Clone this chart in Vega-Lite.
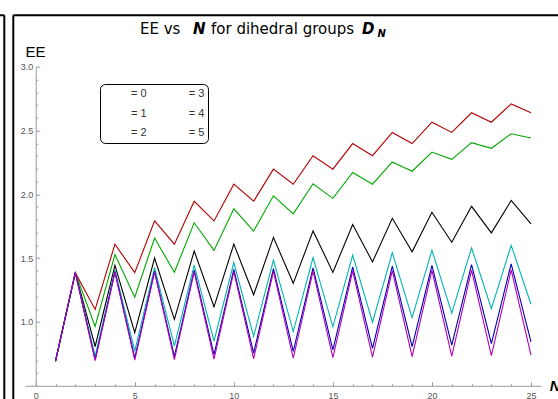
{
  "$schema": "https://vega.github.io/schema/vega-lite/v6.json",
  "width": 515.9,
  "height": 319.1,
  "autosize": {"type": "none"},
  "padding": {"left": 25, "top": 66.7, "right": 17.1, "bottom": 13.2},
  "background": "white",
  "config": {"view": {"stroke": null}, "font": "Liberation Sans"},
  "resolve": {"axis": {"x": "independent", "y": "independent"}},
  "layer": [
    {
      "data": {"values": [
        {"N":1,"k":"0","EE":0.6931},{"N":2,"k":"0","EE":1.3863},{"N":3,"k":"0","EE":1.0986},{"N":4,"k":"0","EE":1.6094},{"N":5,"k":"0","EE":1.3863},{"N":6,"k":"0","EE":1.7918},{"N":7,"k":"0","EE":1.6094},{"N":8,"k":"0","EE":1.9459},{"N":9,"k":"0","EE":1.7918},{"N":10,"k":"0","EE":2.0794},{"N":11,"k":"0","EE":1.9459},{"N":12,"k":"0","EE":2.1972},{"N":13,"k":"0","EE":2.0794},{"N":14,"k":"0","EE":2.3026},{"N":15,"k":"0","EE":2.1972},{"N":16,"k":"0","EE":2.3979},{"N":17,"k":"0","EE":2.3026},{"N":18,"k":"0","EE":2.4849},{"N":19,"k":"0","EE":2.3979},{"N":20,"k":"0","EE":2.5649},{"N":21,"k":"0","EE":2.4849},{"N":22,"k":"0","EE":2.6391},{"N":23,"k":"0","EE":2.5649},{"N":24,"k":"0","EE":2.7081},{"N":25,"k":"0","EE":2.6391},
        {"N":1,"k":"1","EE":0.6931},{"N":2,"k":"1","EE":1.3863},{"N":3,"k":"1","EE":0.9650},{"N":4,"k":"1","EE":1.5285},{"N":5,"k":"1","EE":1.1936},{"N":6,"k":"1","EE":1.6581},{"N":7,"k":"1","EE":1.3897},{"N":8,"k":"1","EE":1.7770},{"N":9,"k":"1","EE":1.5607},{"N":10,"k":"1","EE":1.8867},{"N":11,"k":"1","EE":1.7118},{"N":12,"k":"1","EE":1.9883},{"N":13,"k":"1","EE":1.8469},{"N":14,"k":"1","EE":2.0828},{"N":15,"k":"1","EE":1.9687},{"N":16,"k":"1","EE":2.1711},{"N":17,"k":"1","EE":2.0794},{"N":18,"k":"1","EE":2.2539},{"N":19,"k":"1","EE":2.1808},{"N":20,"k":"1","EE":2.3316},{"N":21,"k":"1","EE":2.2742},{"N":22,"k":"1","EE":2.4050},{"N":23,"k":"1","EE":2.3607},{"N":24,"k":"1","EE":2.4743},{"N":25,"k":"1","EE":2.4412},
        {"N":1,"k":"2","EE":0.6931},{"N":2,"k":"2","EE":1.3863},{"N":3,"k":"2","EE":0.8079},{"N":4,"k":"2","EE":1.4444},{"N":5,"k":"2","EE":0.9169},{"N":6,"k":"2","EE":1.5011},{"N":7,"k":"2","EE":1.0204},{"N":8,"k":"2","EE":1.5563},{"N":9,"k":"2","EE":1.1190},{"N":10,"k":"2","EE":1.6100},{"N":11,"k":"2","EE":1.2130},{"N":12,"k":"2","EE":1.6624},{"N":13,"k":"2","EE":1.3028},{"N":14,"k":"2","EE":1.7136},{"N":15,"k":"2","EE":1.3886},{"N":16,"k":"2","EE":1.7634},{"N":17,"k":"2","EE":1.4708},{"N":18,"k":"2","EE":1.8121},{"N":19,"k":"2","EE":1.5496},{"N":20,"k":"2","EE":1.8597},{"N":21,"k":"2","EE":1.6252},{"N":22,"k":"2","EE":1.9062},{"N":23,"k":"2","EE":1.6979},{"N":24,"k":"2","EE":1.9516},{"N":25,"k":"2","EE":1.7678},
        {"N":1,"k":"3","EE":0.6931},{"N":2,"k":"3","EE":1.3863},{"N":3,"k":"3","EE":0.7332},{"N":4,"k":"3","EE":1.4064},{"N":5,"k":"3","EE":0.7726},{"N":6,"k":"3","EE":1.4263},{"N":7,"k":"3","EE":0.8116},{"N":8,"k":"3","EE":1.4461},{"N":9,"k":"3","EE":0.8499},{"N":10,"k":"3","EE":1.4658},{"N":11,"k":"3","EE":0.8878},{"N":12,"k":"3","EE":1.4853},{"N":13,"k":"3","EE":0.9252},{"N":14,"k":"3","EE":1.5047},{"N":15,"k":"3","EE":0.9620},{"N":16,"k":"3","EE":1.5240},{"N":17,"k":"3","EE":0.9984},{"N":18,"k":"3","EE":1.5431},{"N":19,"k":"3","EE":1.0343},{"N":20,"k":"3","EE":1.5621},{"N":21,"k":"3","EE":1.0697},{"N":22,"k":"3","EE":1.5810},{"N":23,"k":"3","EE":1.1047},{"N":24,"k":"3","EE":1.5997},{"N":25,"k":"3","EE":1.1392},
        {"N":1,"k":"4","EE":0.6931},{"N":2,"k":"4","EE":1.3863},{"N":3,"k":"4","EE":0.7059},{"N":4,"k":"4","EE":1.3927},{"N":5,"k":"4","EE":0.7186},{"N":6,"k":"4","EE":1.3991},{"N":7,"k":"4","EE":0.7313},{"N":8,"k":"4","EE":1.4054},{"N":9,"k":"4","EE":0.7439},{"N":10,"k":"4","EE":1.4118},{"N":11,"k":"4","EE":0.7565},{"N":12,"k":"4","EE":1.4181},{"N":13,"k":"4","EE":0.7690},{"N":14,"k":"4","EE":1.4244},{"N":15,"k":"4","EE":0.7815},{"N":16,"k":"4","EE":1.4308},{"N":17,"k":"4","EE":0.7940},{"N":18,"k":"4","EE":1.4371},{"N":19,"k":"4","EE":0.8064},{"N":20,"k":"4","EE":1.4434},{"N":21,"k":"4","EE":0.8187},{"N":22,"k":"4","EE":1.4496},{"N":23,"k":"4","EE":0.8310},{"N":24,"k":"4","EE":1.4559},{"N":25,"k":"4","EE":0.8433},
        {"N":1,"k":"5","EE":0.6931},{"N":2,"k":"5","EE":1.3863},{"N":3,"k":"5","EE":0.6970},{"N":4,"k":"5","EE":1.3882},{"N":5,"k":"5","EE":0.7009},{"N":6,"k":"5","EE":1.3902},{"N":7,"k":"5","EE":0.7047},{"N":8,"k":"5","EE":1.3921},{"N":9,"k":"5","EE":0.7086},{"N":10,"k":"5","EE":1.3940},{"N":11,"k":"5","EE":0.7125},{"N":12,"k":"5","EE":1.3960},{"N":13,"k":"5","EE":0.7163},{"N":14,"k":"5","EE":1.3979},{"N":15,"k":"5","EE":0.7202},{"N":16,"k":"5","EE":1.3998},{"N":17,"k":"5","EE":0.7240},{"N":18,"k":"5","EE":1.4018},{"N":19,"k":"5","EE":0.7279},{"N":20,"k":"5","EE":1.4037},{"N":21,"k":"5","EE":0.7317},{"N":22,"k":"5","EE":1.4056},{"N":23,"k":"5","EE":0.7355},{"N":24,"k":"5","EE":1.4075},{"N":25,"k":"5","EE":0.7394}
      ]},
      "mark": {"type": "line", "strokeWidth": 1.1},
      "encoding": {
        "x": {
          "field": "N", "type": "quantitative",
          "scale": {"domain": [-0.54, 25.5], "nice": false, "zero": false},
          "axis": {
            "orient": "bottom",
            "values": [0,5,10,15,20,25],
            "format": "d",
            "tickSize": -4,
            "labelPadding": 9.2,
            "labelOverlap": false,
            "labelFlush": false,
            "labelFontSize": 9,
            "labelColor": "#555555",
            "domainColor": "#999999",
            "tickColor": "#999999",
            "grid": false,
            "title": "N",
            "titleFontSize": 15,
            "titleFontWeight": "bold",
            "titleFontStyle": "italic",
            "titleColor": "black",
            "titleAlign": "left",
            "titleBaseline": "middle",
            "titleX": 524.3,
            "titleY": 0
          }
        },
        "y": {
          "field": "EE", "type": "quantitative",
          "scale": {"domain": [0.5, 3.0], "nice": false, "zero": false},
          "axis": {
            "orient": "left",
            "values": [1.0,1.5,2.0,2.5,3.0],
            "format": ".1f",
            "tickSize": -4,
            "labelPadding": 7,
            "labelOverlap": false,
            "labelFlush": false,
            "offset": -10.7,
            "labelFontSize": 9,
            "labelColor": "#555555",
            "domainColor": "#999999",
            "tickColor": "#999999",
            "grid": false,
            "title": "EE",
            "titleAngle": 0,
            "titleFontSize": 15,
            "titleFontWeight": "normal",
            "titleColor": "black",
            "titleAlign": "left",
            "titleBaseline": "alphabetic",
            "titleX": -10.7,
            "titleY": -9.7
          }
        },
        "color": {
          "field": "k", "type": "nominal",
          "scale": {"domain": ["0","1","2","3","4","5"], "range": ["#B40000","#00A800","#000000","#00B4B4","#0000B4","#B400B4"]},
          "legend": {
            "orient": "none", "legendX": 75, "legendY": 17.3,
            "columns": 2, "title": null,
            "strokeColor": "black", "cornerRadius": 5, "padding": 3,
            "symbolType": "circle", "symbolSize": 196, "symbolOpacity": 0, "symbolStrokeWidth": 0,
            "labelOffset": 14, "columnPadding": 13.7, "rowPadding": 5.5,
            "labelFontSize": 11, "labelColor": "#333333", "labelFont": "Liberation Sans",
            "labelExpr": "'= ' + datum.label"
          }
        }
      }
    },
    {"data": {"values": [{}]}, "mark": {"type": "rule", "strokeWidth": 2, "color": "black", "clip": false},
     "encoding": {
       "x": {"datum": -1.131, "axis": null},
       "y": {"datum": 3.403, "axis": {
         "orient": "left",
         "values": [0.6,0.7,0.8,0.9,1.1,1.2,1.3,1.4,1.6,1.7,1.8,1.9,2.1,2.2,2.3,2.4,2.6,2.7,2.8,2.9],
         "labels": false, "domain": false, "tickSize": -2, "tickColor": "#999999", "grid": false, "title": null, "offset": -10.7}},
       "y2": {"datum": 0.3}}},
    {"data": {"values": [{}]}, "mark": {"type": "rule", "strokeWidth": 2, "color": "black", "clip": false},
     "encoding": {"x": {"datum": -1.585, "axis": null}, "y": {"datum": 3.403, "axis": null}, "y2": {"datum": 0.3}}},
    {"data": {"values": [{}]}, "mark": {"type": "rule", "strokeWidth": 2, "color": "black", "clip": false},
     "encoding": {
       "x": {"datum": -1.131, "axis": {
         "orient": "bottom",
         "values": [1,2,3,4,6,7,8,9,11,12,13,14,16,17,18,19,21,22,23,24],
         "labels": false, "domain": false, "tickSize": -2, "tickColor": "#999999", "grid": false, "title": null}},
       "x2": {"datum": 27},
       "y": {"datum": 3.403, "axis": null}}},
    {"data": {"values": [{}]}, "mark": {"type": "rule", "strokeWidth": 2, "color": "black", "clip": false},
     "encoding": {"x": {"datum": -3, "axis": null}, "x2": {"datum": -1.585}, "y": {"datum": 3.403, "axis": null}}},
    {"data": {"values": [{}]}, "mark": {"type": "text", "align": "left", "baseline": "alphabetic", "fontSize": 15, "font": "DejaVu Sans", "color": "black", "clip": false, "text": "EE vs"},
     "encoding": {"x": {"datum": 5.265, "axis": null}, "y": {"datum": 3.26, "axis": null}}},
    {"data": {"values": [{}]}, "mark": {"type": "text", "align": "left", "baseline": "alphabetic", "fontSize": 15, "font": "DejaVu Sans", "fontWeight": "bold", "fontStyle": "italic", "color": "black", "clip": false, "text": "N"},
     "encoding": {"x": {"datum": 7.94, "axis": null}, "y": {"datum": 3.26, "axis": null}}},
    {"data": {"values": [{}]}, "mark": {"type": "text", "align": "left", "baseline": "alphabetic", "fontSize": 15, "font": "DejaVu Sans", "color": "black", "clip": false, "text": "for dihedral groups"},
     "encoding": {"x": {"datum": 8.85, "axis": null}, "y": {"datum": 3.26, "axis": null}}},
    {"data": {"values": [{}]}, "mark": {"type": "text", "align": "left", "baseline": "alphabetic", "fontSize": 15, "font": "DejaVu Sans", "fontWeight": "bold", "fontStyle": "italic", "color": "black", "clip": false, "text": "D"},
     "encoding": {"x": {"datum": 16.47, "axis": null}, "y": {"datum": 3.26, "axis": null}}},
    {"data": {"values": [{}]}, "mark": {"type": "text", "align": "left", "baseline": "alphabetic", "fontSize": 10, "font": "DejaVu Sans", "fontWeight": "bold", "fontStyle": "italic", "color": "black", "clip": false, "text": "N"},
     "encoding": {"x": {"datum": 17.25, "axis": null}, "y": {"datum": 3.232, "axis": null}}}
  ]
}
